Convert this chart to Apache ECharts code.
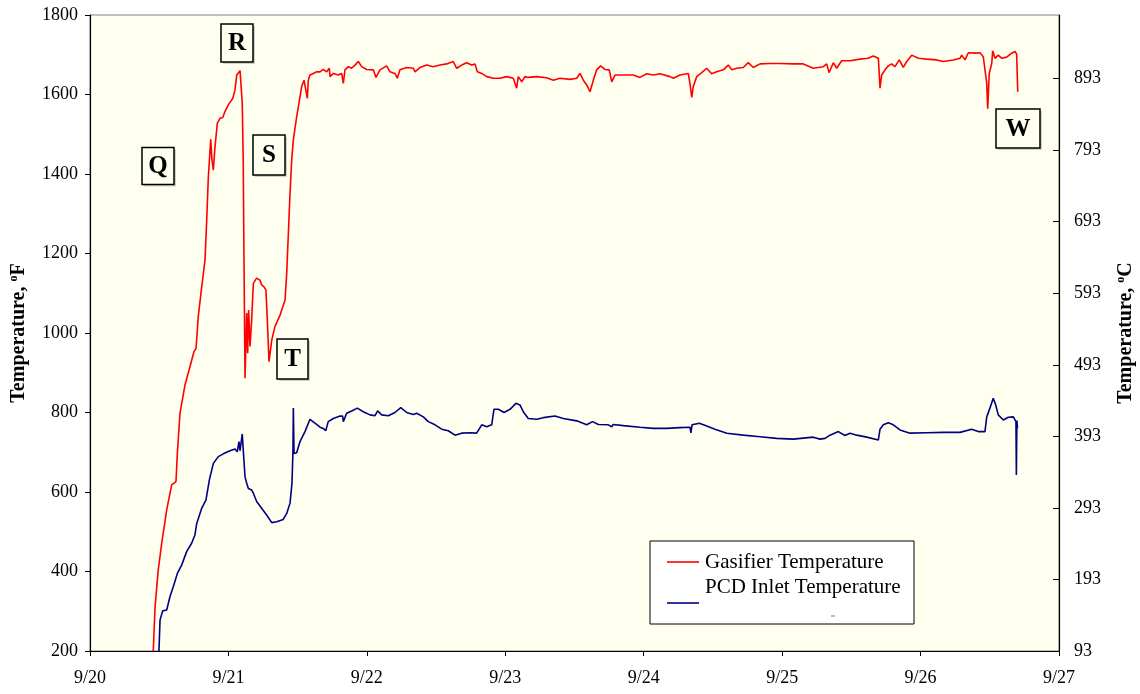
<!DOCTYPE html>
<html>
<head>
<meta charset="utf-8">
<title>Gasifier and PCD Inlet Temperatures</title>
<script src="https://cdn.jsdelivr.net/npm/echarts@6/dist/echarts.min.js"></script>
<style>
  html, body { margin: 0; padding: 0; background: #ffffff; }
  #chart { width: 1140px; height: 694px; }
</style>
</head>
<body>
<div id="chart"></div>
<script>
// Date tick labels (one per day, starting at 9/20 00:00)
const dayLabels = ['9/20', '9/21', '9/22', '9/23', '9/24', '9/25', '9/26', '9/27'];

// Series names
const seriesNames = ['Gasifier Temperature', 'PCD Inlet Temperature'];

// Gasifier temperature, [days since 9/20, deg F]
const gasifierData = [
  [0.457,200],[0.470,311],[0.493,404],[0.518,471],[0.554,555],[0.590,618],[0.621,626],[0.631,697],
  [0.650,798],[0.686,869],[0.722,915],[0.751,953],[0.766,961],[0.782,1041],[0.807,1116],[0.831,1184],
  [0.843,1284],[0.855,1393],[0.872,1487],[0.880,1440],[0.891,1410],[0.903,1469],[0.920,1528],[0.939,1540],
  [0.959,1542],[0.975,1557],[0.999,1574],[1.031,1590],[1.047,1611],[1.060,1649],[1.084,1660],[1.096,1662],
  [1.100,1578],[1.107,1427],[1.112,1200],[1.120,886],[1.132,1050],[1.139,949],[1.146,1058],[1.156,966],
  [1.168,1033],[1.180,1125],[1.204,1138],[1.228,1133],[1.240,1121],[1.257,1116],[1.271,1108],[1.281,1033],
  [1.293,928],[1.313,982],[1.336,1016],[1.373,1045],[1.409,1083],[1.421,1150],[1.433,1251],[1.445,1351],
  [1.457,1435],[1.469,1486],[1.481,1481],[1.493,1544],[1.505,1569],[1.529,1620],[1.546,1636],[1.560,1641],
  [1.570,1590],[1.577,1636],[1.589,1649],[1.613,1653],[1.638,1657],[1.661,1657],[1.685,1663],[1.710,1657],
  [1.729,1666],[1.734,1645],[1.758,1653],[1.794,1649],[1.818,1653],[1.830,1628],[1.842,1662],[1.866,1670],
  [1.890,1666],[1.914,1674],[1.938,1683],[1.963,1670],[1.999,1663],[2.047,1662],[2.066,1643],[2.095,1662],
  [2.143,1672],[2.167,1657],[2.203,1653],[2.220,1641],[2.239,1662],[2.288,1668],[2.336,1666],[2.348,1657],
  [2.384,1668],[2.432,1674],[2.480,1670],[2.528,1674],[2.577,1677],[2.624,1683],[2.649,1666],[2.685,1674],
  [2.721,1680],[2.757,1674],[2.781,1677],[2.798,1657],[2.830,1653],[2.866,1645],[2.913,1641],[2.962,1641],
  [3.010,1645],[3.058,1641],[3.082,1616],[3.094,1645],[3.119,1632],[3.142,1645],[3.166,1643],[3.227,1645],
  [3.299,1642],[3.347,1636],[3.395,1641],[3.467,1638],[3.516,1641],[3.540,1653],[3.564,1636],[3.588,1624],
  [3.612,1607],[3.636,1636],[3.660,1662],[3.689,1672],[3.720,1663],[3.751,1662],[3.769,1632],[3.793,1649],
  [3.853,1649],[3.925,1649],[3.973,1643],[4.022,1652],[4.069,1649],[4.118,1652],[4.190,1645],[4.214,1641],
  [4.262,1649],[4.322,1653],[4.334,1628],[4.347,1593],[4.358,1620],[4.383,1645],[4.419,1655],[4.455,1666],
  [4.491,1652],[4.527,1657],[4.575,1662],[4.611,1674],[4.636,1662],[4.672,1666],[4.719,1668],[4.755,1680],
  [4.792,1668],[4.840,1677],[4.912,1678],[4.984,1678],[5.081,1677],[5.153,1677],[5.225,1666],[5.297,1670],
  [5.322,1677],[5.339,1655],[5.370,1680],[5.394,1666],[5.430,1685],[5.490,1685],[5.562,1689],[5.622,1691],
  [5.658,1697],[5.695,1691],[5.707,1616],[5.719,1649],[5.743,1662],[5.767,1672],[5.791,1677],[5.815,1670],
  [5.846,1687],[5.875,1668],[5.900,1683],[5.936,1699],[5.984,1691],[6.044,1689],[6.116,1687],[6.164,1683],
  [6.236,1687],[6.285,1691],[6.297,1699],[6.321,1687],[6.345,1705],[6.393,1704],[6.429,1705],[6.453,1695],
  [6.465,1691],[6.478,1628],[6.485,1564],[6.496,1653],[6.514,1678],[6.521,1710],[6.538,1691],[6.561,1699],
  [6.586,1691],[6.622,1694],[6.658,1704],[6.682,1708],[6.694,1702],[6.702,1607]
];

// PCD inlet temperature, [days since 9/20, deg F]
const pcdInletData = [
  [0.498,200],[0.506,278],[0.525,301],[0.554,303],[0.578,337],[0.602,362],[0.631,395],[0.662,416],
  [0.698,450],[0.734,471],[0.758,492],[0.771,521],[0.807,559],[0.838,580],[0.847,580],[0.862,630],
  [0.891,672],[0.927,689],[0.963,696],[1.011,704],[1.047,708],[1.064,701],[1.076,727],[1.084,704],
  [1.100,746],[1.107,706],[1.120,638],[1.132,622],[1.144,609],[1.168,605],[1.180,597],[1.204,576],
  [1.240,559],[1.276,542],[1.313,523],[1.349,525],[1.396,531],[1.421,546],[1.445,572],[1.459,622],
  [1.466,700],[1.469,811],[1.474,697],[1.493,699],[1.517,727],[1.553,752],[1.589,783],[1.625,773],
  [1.662,763],[1.685,760],[1.703,754],[1.721,777],[1.758,785],[1.806,791],[1.825,791],[1.830,777],
  [1.854,798],[1.890,804],[1.931,811],[1.974,802],[2.023,794],[2.059,792],[2.078,804],[2.107,794],
  [2.155,792],[2.203,800],[2.245,812],[2.288,800],[2.336,795],[2.360,798],[2.408,789],[2.444,777],
  [2.492,769],[2.541,758],[2.588,754],[2.637,743],[2.685,748],[2.745,749],[2.793,748],[2.830,769],
  [2.866,764],[2.902,769],[2.918,808],[2.950,808],[2.991,800],[3.034,808],[3.077,823],[3.106,819],
  [3.130,802],[3.166,785],[3.227,783],[3.275,787],[3.359,791],[3.419,785],[3.516,779],[3.588,769],
  [3.631,777],[3.672,770],[3.744,769],[3.769,764],[3.780,770],[3.853,767],[3.973,763],[4.069,760],
  [4.166,760],[4.262,762],[4.334,763],[4.341,749],[4.349,769],[4.402,773],[4.455,766],[4.515,758],
  [4.600,748],[4.719,743],[4.840,739],[4.961,735],[5.081,733],[5.225,738],[5.273,733],[5.310,735],
  [5.346,743],[5.406,752],[5.454,742],[5.490,748],[5.539,743],[5.611,738],[5.695,731],[5.707,758],
  [5.731,769],[5.767,774],[5.803,769],[5.851,756],[5.924,748],[6.044,749],[6.164,750],[6.285,750],
  [6.369,758],[6.417,752],[6.465,752],[6.478,789],[6.501,811],[6.525,836],[6.543,819],[6.561,794],
  [6.598,781],[6.634,788],[6.670,789],[6.689,777],[6.692,643],[6.696,780],[6.700,760]
];

// Event markers drawn as boxed letters
const eventLetters = ['Q', 'R', 'S', 'T', 'W'];

const serif = '"Liberation Serif", "Times New Roman", serif';
const fToC = f => (f - 32) * 5 / 9;

const chart = echarts.init(document.getElementById('chart'), null, { renderer: 'canvas' });

function letterBox(letter, cx, cy, w, h) {
  return {
    type: 'group',
    x: cx - w / 2,
    y: cy - h / 2,
    children: [
      { type: 'rect', shape: { x: 2, y: 2, width: w, height: h },
        style: { fill: 'rgba(0,0,0,0.18)' } },
      { type: 'rect', shape: { x: 0, y: 0, width: w, height: h },
        style: { fill: '#fffff0', stroke: '#000', lineWidth: 1.5 } },
      { type: 'text', x: w / 2, y: h / 2 + 1,
        style: { text: letter, font: 'bold 25px ' + serif, fill: '#000',
                 textAlign: 'center', textVerticalAlign: 'middle' } }
    ]
  };
}

const boxSpots = {
  Q: [158, 166, 32, 37],
  R: [237, 43, 32, 38],
  S: [269, 155, 32, 40],
  T: [292.5, 359, 31, 40],
  W: [1018, 128.5, 44, 39]
};

const axisTitleStyle = {
  fontFamily: serif, fontSize: 20, fontWeight: 'bold', color: '#000',
  rich: {
    sup: { fontFamily: serif, fontSize: 12, fontWeight: 'bold', color: '#000',
           verticalAlign: 'top', padding: [0, 0, 9, 0] }
  }
};

const option = {
  animation: false,
  backgroundColor: '#ffffff',
  grid: {
    left: 90, right: 81, top: 15, bottom: 43,
    containLabel: false, outerBoundsMode: 'none',
    show: true, backgroundColor: '#fffff0', borderColor: '#808080', borderWidth: 1
  },
  xAxis: {
    type: 'value', min: 0, max: 7, interval: 1,
    axisLine: { show: true, lineStyle: { color: '#000', width: 1.2 } },
    axisTick: { show: true, inside: false, length: 5, lineStyle: { color: '#000' } },
    axisLabel: {
      margin: 18, color: '#000', fontFamily: serif, fontSize: 18,
      formatter: v => dayLabels[Math.round(v)] || ''
    },
    splitLine: { show: false }
  },
  yAxis: [
    {
      type: 'value', min: 200, max: 1800, interval: 200, position: 'left',
      name: 'Temperature, {sup|o}F', nameLocation: 'middle', nameGap: 61, nameRotate: 90,
      nameTextStyle: axisTitleStyle,
      axisLine: { show: true, lineStyle: { color: '#000', width: 1.2 } },
      axisTick: { show: true, inside: false, length: 5, lineStyle: { color: '#000' } },
      axisLabel: { margin: 12, color: '#000', fontFamily: serif, fontSize: 18,
                   formatter: v => String(v) },
      splitLine: { show: false }
    },
    {
      type: 'value', min: fToC(200), max: fToC(1800), interval: 100, position: 'right',
      name: 'Temperature, {sup|o}C', nameLocation: 'middle', nameGap: 56, nameRotate: 90,
      nameTextStyle: axisTitleStyle,
      axisLine: { show: true, lineStyle: { color: '#000', width: 1.2 } },
      axisTick: { show: true, inside: true, length: 6, lineStyle: { color: '#000' } },
      axisLabel: {
        margin: 15, color: '#000', fontFamily: serif, fontSize: 18,
        showMaxLabel: false, formatter: v => String(Math.round(v))
      },
      splitLine: { show: false }
    }
  ],
  series: [
    {
      name: seriesNames[0], type: 'line', yAxisIndex: 0, data: gasifierData,
      showSymbol: false, symbol: 'none', smooth: false,
      lineStyle: { color: '#ff0000', width: 1.6 }, itemStyle: { color: '#ff0000' }
    },
    {
      name: seriesNames[1], type: 'line', yAxisIndex: 0, data: pcdInletData,
      showSymbol: false, symbol: 'none', smooth: false,
      lineStyle: { color: '#000080', width: 1.6 }, itemStyle: { color: '#000080' }
    }
  ],
  graphic: [
    // legend box
    { type: 'rect', shape: { x: 650, y: 541, width: 264, height: 83 },
      style: { fill: '#ffffff', stroke: '#000', lineWidth: 1 } },
    { type: 'line', shape: { x1: 667, y1: 562, x2: 699, y2: 562 },
      style: { stroke: '#ff0000', lineWidth: 1.6 } },
    { type: 'line', shape: { x1: 667, y1: 603, x2: 699, y2: 603 },
      style: { stroke: '#000080', lineWidth: 1.6 } },
    { type: 'text', x: 705, y: 562,
      style: { text: seriesNames[0], font: '21px ' + serif, fill: '#000', textVerticalAlign: 'middle' } },
    { type: 'text', x: 705, y: 587,
      style: { text: seriesNames[1], font: '21px ' + serif, fill: '#000', textVerticalAlign: 'middle' } },
    { type: 'line', shape: { x1: 831, y1: 616, x2: 835, y2: 616 },
      style: { stroke: '#777', lineWidth: 1 } }
  ].concat(eventLetters.map(l => letterBox(l, ...boxSpots[l])))
};

chart.setOption(option);
</script>
</body>
</html>
